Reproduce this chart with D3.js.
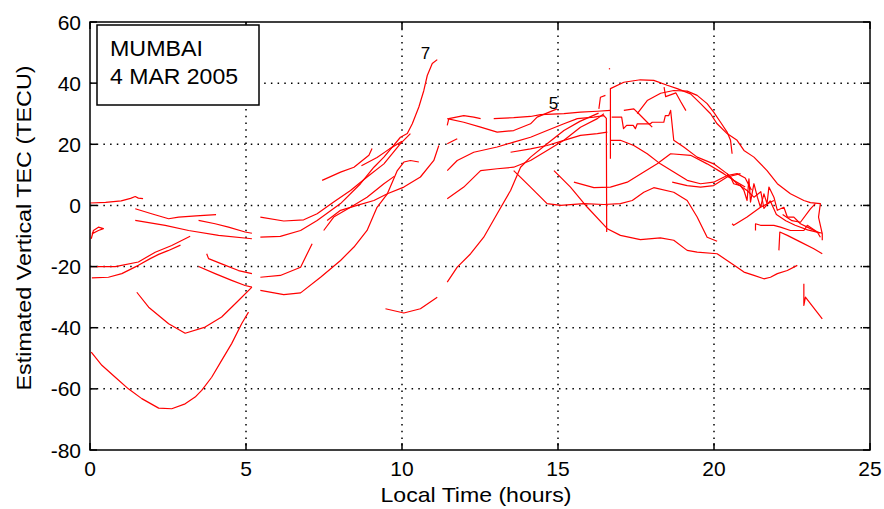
<!DOCTYPE html>
<html>
<head>
<meta charset="utf-8">
<script src="https://cdn.jsdelivr.net/npm/d3@7"></script>
<style>
  body { margin: 0; background: #ffffff; }
  text { font-family: "Liberation Sans", Arial, sans-serif; fill: #000; }
</style>
</head>
<body>
<div id="chart"></div>
<script>
// tick values
const xTicks = [0, 5, 10, 15, 20, 25];
const yTicks = [-80, -60, -40, -20, 0, 20, 40, 60];

// satellite tracks, [local time (h), TEC (TECU)]
const tracksNight = [
  [[0, 0.8], [0.5, 1.0], [1.0, 1.5], [1.3, 2.3], [1.45, 2.9], [1.55, 2.4], [1.7, 2.2]],
  [[1.45, -1.1], [2.0, -2.8], [2.52, -4.35], [2.84, -3.8], [3.4, -3.4], [4.04, -3.0]],
  [[1.45, -4.9], [2.41, -6.5], [3.16, -8.2], [4.12, -9.8], [5.19, -10.9]],
  [[3.48, -4.9], [4.01, -6.0], [4.44, -7.1], [4.97, -8.7], [5.19, -9.1]],
  [[0.04, -10.9], [0.11, -8.2], [0.27, -7.1], [0.43, -7.6], [0.27, -8.2], [0.06, -9.3]],
  [[0.06, -20], [0.81, -20], [1.55, -18.5], [2.09, -15.3], [2.62, -13.1], [3.21, -10.1]],
  [[0.06, -23.7], [0.59, -23.5], [1.02, -22.3], [1.55, -19.6], [1.93, -17.4], [2.2, -16.0], [2.5, -14.8], [2.9, -13]],
  [[3.74, -15.8], [3.8, -17.4], [4.22, -19.1], [4.76, -21.3], [5.19, -22.3]],
  [[3.48, -20], [4.01, -22.3], [4.54, -24.5], [4.97, -26.2], [5.19, -26.7]],
  [[1.5, -28.4], [1.88, -33.3], [2.52, -38.7], [3.05, -41.8], [3.69, -39.8], [4.22, -36.5], [4.76, -31.1], [5.19, -26.7]],
  [[0.04, -48], [0.38, -52.3], [0.81, -56.2], [1.23, -60], [1.66, -63.2], [2.2, -66.3], [2.62, -66.5], [3.05, -64.9],
   [3.37, -62.7], [3.58, -60.5], [3.9, -56.2], [4.22, -50.7], [4.54, -45.2], [4.86, -38.7], [5.08, -34.9]]
];

const tracksMorning = [
  [[5.46, -3.8], [6.21, -5.1], [6.85, -4.7], [7.28, -2.7], [7.81, 1.1], [8.35, 4.9], [8.88, 9.3], [9.42, 13.6], [9.95, 20.2], [10.27, 23.5]],
  [[5.46, -10.4], [6.1, -10.1], [6.75, -8.2], [7.28, -4.9], [8.03, 0.6], [8.67, 7.1], [9.1, 12.5], [9.42, 15.8], [9.95, 22.3],
   [10.17, 23.5], [10.33, 26.7], [10.54, 32.2], [10.7, 37.6], [10.81, 42.5], [10.97, 46.4], [11.13, 47.7]],
  [[7.44, 8.2], [8.03, 10.9], [8.46, 12.5], [8.94, 16.4], [9.04, 18.6]],
  [[8.7, 13], [9.2, 15.7], [9.6, 18.5], [10.0, 21]],
  [[7.49, -8.2], [7.81, -3.8], [8.35, -0.6], [8.88, 2.7], [9.42, 7.1], [9.75, 9.5]],
  [[7.6, -4.9], [8.03, -1.6], [8.56, 0], [9.1, 1.6], [9.53, 3.8], [10.06, 6.0], [10.59, 9.3], [11.02, 14.7], [11.18, 19.6]],
  [[5.46, -23.5], [6.1, -22.9], [6.75, -20.2], [7.12, -12.5]],
  [[5.46, -27.8], [6.21, -29.2], [6.75, -28.6], [7.39, -23.5], [8.03, -18], [8.46, -13.6], [8.88, -8.2], [9.2, -0.6],
   [9.53, 3.8], [9.85, 11.4], [10.06, 14.2], [10.27, 14.7], [10.54, 14.2]],
  [[9.47, -33.8], [10.06, -35.2], [10.59, -33.8], [11.13, -30]]
];

const tracksDay = [
  [[11.45, 26.2], [11.5, 28.4], [11.98, 29.4], [12.3, 28.9], [12.52, 28.4]],
  [[11.45, 28.4], [11.98, 27.2], [12.52, 25.6], [13.05, 24], [13.58, 24.5], [14.12, 26.7], [14.33, 28.9], [14.97, 31.6]],
  [[12.94, 28.4], [13.58, 28.7], [14.12, 29.1], [14.44, 29.7], [15.19, 30], [15.72, 30.5], [16.26, 30.8], [16.68, 31.1]],
  [[11.45, 20.2], [11.77, 21.8]],
  [[11.45, 11.4], [11.77, 14.7], [12.3, 17.4], [13.05, 19.1], [13.58, 20.7], [14.12, 22.3], [14.65, 24.5], [15.19, 26.7],
   [15.62, 28.4], [16.15, 28.9], [16.47, 29.4], [16.55, 28.5], [16.56, -8.7]],
  [[11.45, 2.2], [11.98, 6], [12.52, 11.4], [13.05, 12], [13.58, 12.5], [14.12, 14.7], [14.65, 18], [15.19, 21.3],
   [15.72, 25.6], [16.26, 28.4], [16.47, 30]],
  [[13.48, 17.4], [14.12, 18.5], [14.65, 19.6], [15.19, 21.3], [15.72, 22.9], [16.26, 23.5], [16.58, 24]],
  [[11.45, -25.1], [11.77, -20.2], [12.2, -15.8], [12.62, -10.4], [13.05, -2.7], [13.48, 4.9], [13.8, 12.5], [14.12, 15.8],
   [14.65, 20.2], [15.19, 24.5], [15.7, 27.5], [16.3, 30.2]],
  [[13.58, 11.4], [14.12, 6], [14.65, 0.6], [15.08, 0], [15.83, 0.6], [16.47, 0.3], [17, 0.6], [17.38, 1.6], [17.75, 4.3],
   [18.07, 5.8], [18.71, 4.3], [19.14, 1.6], [19.46, -3.8], [19.78, -10.4], [20.1, -11.7]],
  [[14.87, 11.4], [15.4, 6], [15.94, -0.6], [16.58, -7.6], [17, -9.8], [17.64, -11.2], [18.28, -10.6], [18.71, -11.4],
   [19.14, -14.7], [19.46, -15.3], [20.1, -15.8], [20.42, -18], [20.74, -20.2], [20.96, -21.8], [21.28, -22.9],
   [21.6, -24], [21.81, -23.5], [22.03, -22.3], [22.35, -21.3], [22.67, -19.6]],
  [[15.51, 7.6], [16.15, 5.8], [16.68, 6], [17.22, 7.6], [17.75, 10.9], [18.18, 13.6], [18.61, 16.9], [19.25, 16.4],
   [19.78, 13.6], [20.31, 10.4], [20.63, 8.2], [21.0, 6]]
];

const tracksEvening = [
  [[16.68, 15.3], [16.68, 38.2], [17.11, 40.3], [17.64, 41.1], [18.07, 40.9], [18.5, 39.3], [18.82, 38.2], [19.25, 36.5],
   [19.57, 33.3], [19.89, 30], [20.1, 26.7], [20.42, 23.5], [20.74, 21.3], [20.96, 18], [21.28, 15.8], [21.7, 11.4],
   [22.03, 7.1], [22.45, 3.8], [22.88, 1.6], [23.09, 0.9], [23.41, 0.6], [23.35, -3.8], [23.47, -9.3], [23.47, -11.4]],
  [[17.54, 30], [17.86, 34.3], [18.29, 36.7], [18.71, 37.6], [19.14, 37.4], [19.46, 36], [19.78, 33.3], [19.99, 30.5],
   [20.21, 27.2], [20.42, 24], [20.53, 21.3], [20.58, 16.9]],
  [[18.4, 38.7], [18.45, 35.6], [18.78, 36.8], [18.93, 34], [19.1, 31]],
  [[16.31, 31.6], [16.36, 35.4], [16.52, 36]],
  [[17.11, 31.1], [17.43, 31.6], [17.59, 30], [17.86, 27.2], [18.02, 25.6]],
  [[16.72, 28.9], [17.04, 28.9], [17.1, 25.1], [17.2, 26.2], [17.41, 26.2], [17.48, 25.1], [17.54, 26.7], [17.96, 26.7],
   [18.02, 27.2], [18.39, 27.2], [18.44, 29.4], [18.55, 29.4], [18.61, 31.1], [18.71, 21.3], [19.03, 19.1], [19.46, 15.8],
   [19.99, 13.6], [20.42, 10.4], [20.74, 7.1], [21.06, 4.9], [21.28, 2.7], [21.5, 4.5], [21.6, -1], [21.8, 1.5],
   [22.0, -3], [22.3, -5], [22.6, -6.5], [23.0, -8], [23.4, -9]],
  [[16.68, 21.3], [17, 21.3], [17.43, 19.6], [17.86, 16.9], [18.28, 13.6], [18.71, 10.9], [19.14, 8.2], [19.57, 7.1],
   [19.99, 7.6], [20.42, 9.8], [20.74, 10.4], [21.0, 9], [21.2, 5]],
  [[18.66, 7.6], [19.14, 6.5], [19.57, 6], [19.99, 6.5], [20.42, 9.3], [20.85, 10.4]],
  [[20.58, -6], [20.63, -6.5], [21.06, -3.8], [21.49, -0.6], [21.92, 1.6]],
  [[21.33, -8.2], [21.33, -6], [21.49, -6.5], [21.92, -6.5], [22.13, -7.1], [22.45, -8.2], [22.88, -8.2], [22.99, -6.5],
   [23.31, -8.7], [23.47, -9.1]],
  [[22.08, -14.7], [22.11, -8.7], [22.35, -9.8], [22.78, -12], [23.2, -14.2], [23.47, -15.8]],
  [[22.88, -25.6], [22.88, -32.7], [22.93, -30], [23.47, -37.1]],
  [[20.42, 10.4], [20.53, 9.3], [20.63, 7.1], [20.85, 6.5], [20.96, 4.9], [21.06, 1.6], [21.12, 8.7], [21.17, 1.1],
   [21.28, 7.1], [21.39, 2.7], [21.49, -0.6], [21.6, 3.8], [21.7, 0.6], [21.76, 6], [21.92, 2.7], [22.03, -1.6],
   [22.24, -0.6], [22.35, -3.8], [22.56, -3.8], [22.77, -6], [22.99, -7.1], [23.31, -8.7], [23.41, -10.4]],
  [[22.2, -3], [22.5, -5], [22.77, -5.5], [23.09, -1.1], [23.25, 0.6]],
  [[16.63, 44.7], [16.67, 44.7]]
];

// satellite numbers written on the plot
const prnLabels = [
  { hour: 10.6, tec: 47.8, text: '7' },
  { hour: 14.7, tec: 31.4, text: '5' }
];

const legendLines = ['MUMBAI', '4 MAR 2005'];

const width = 884;
const height = 509;

const x = d3.scaleLinear().domain([0, 25]).range([90, 870]);
const y = d3.scaleLinear().domain([-80, 60]).range([450, 22]);

const svg = d3
  .select('#chart')
  .append('svg')
  .attr('width', width)
  .attr('height', height);

// dotted grid
const grid = svg.append('g').attr('stroke', '#000').attr('stroke-width', 1.5).attr('stroke-dasharray', '1.5,5.2');
grid
  .selectAll('line.gx')
  .data(xTicks.slice(1, -1))
  .join('line')
  .attr('x1', d => x(d)).attr('x2', d => x(d))
  .attr('y1', y(60)).attr('y2', y(-80));
grid
  .selectAll('line.gy')
  .data(yTicks.slice(1, -1))
  .join('line')
  .attr('x1', x(0)).attr('x2', x(25))
  .attr('y1', d => y(d)).attr('y2', d => y(d));

// tracks
const line = d3.line().x(d => x(d[0])).y(d => y(d[1]));
svg
  .append('g')
  .selectAll('path')
  .data([...tracksNight, ...tracksMorning, ...tracksDay, ...tracksEvening])
  .join('path')
  .attr('fill', 'none')
  .attr('stroke', '#ff0000')
  .attr('stroke-width', 1.2)
  .attr('stroke-linejoin', 'round')
  .attr('d', line);

// axes: MATLAB style box with inward ticks
const tickLen = 7;
const axisG = svg.append('g').attr('stroke', '#000').attr('stroke-width', 1.5);
axisG.append('rect')
  .attr('x', x(0)).attr('y', y(60))
  .attr('width', x(25) - x(0)).attr('height', y(-80) - y(60))
  .attr('fill', 'none');
xTicks.forEach(t => {
  axisG.append('line').attr('x1', x(t)).attr('x2', x(t)).attr('y1', y(-80)).attr('y2', y(-80) - tickLen);
  axisG.append('line').attr('x1', x(t)).attr('x2', x(t)).attr('y1', y(60)).attr('y2', y(60) + tickLen);
});
yTicks.forEach(t => {
  axisG.append('line').attr('x1', x(0)).attr('x2', x(0) + tickLen).attr('y1', y(t)).attr('y2', y(t));
  axisG.append('line').attr('x1', x(25)).attr('x2', x(25) - tickLen).attr('y1', y(t)).attr('y2', y(t));
});

svg.append('g')
  .selectAll('text')
  .data(xTicks)
  .join('text')
  .attr('x', d => x(d))
  .attr('y', 476)
  .attr('text-anchor', 'middle')
  .style('font-size', '21px')
  .text(d => d);

svg.append('g')
  .selectAll('text')
  .data(yTicks)
  .join('text')
  .attr('x', 81)
  .attr('y', d => y(d))
  .attr('dy', '0.36em')
  .attr('text-anchor', 'end')
  .style('font-size', '21px')
  .text(d => d);

// axis titles
svg.append('text')
  .attr('x', 476)
  .attr('y', 502)
  .attr('text-anchor', 'middle')
  .attr('textLength', 191)
  .attr('lengthAdjust', 'spacingAndGlyphs')
  .style('font-size', '21px')
  .text('Local Time (hours)');

svg.append('text')
  .attr('transform', 'translate(31,228) rotate(-90)')
  .attr('text-anchor', 'middle')
  .attr('textLength', 325)
  .attr('lengthAdjust', 'spacingAndGlyphs')
  .style('font-size', '21px')
  .text('Estimated Vertical TEC (TECU)');

// location / date box
svg.append('rect')
  .attr('x', 97).attr('y', 25)
  .attr('width', 162).attr('height', 80)
  .attr('fill', '#fff')
  .attr('stroke', '#000')
  .attr('stroke-width', 1.5);
svg.append('g')
  .selectAll('text')
  .data(legendLines)
  .join('text')
  .attr('x', 110)
  .attr('y', (d, i) => 56 + i * 27.5)
  .attr('textLength', (d, i) => (i === 0 ? 93 : 128))
  .attr('lengthAdjust', 'spacingAndGlyphs')
  .style('font-size', '22px')
  .text(d => d);

svg.append('g')
  .selectAll('text')
  .data(prnLabels)
  .join('text')
  .attr('x', d => x(d.hour))
  .attr('y', d => y(d.tec))
  .style('font-size', '17px')
  .text(d => d.text);
</script>
</body>
</html>
